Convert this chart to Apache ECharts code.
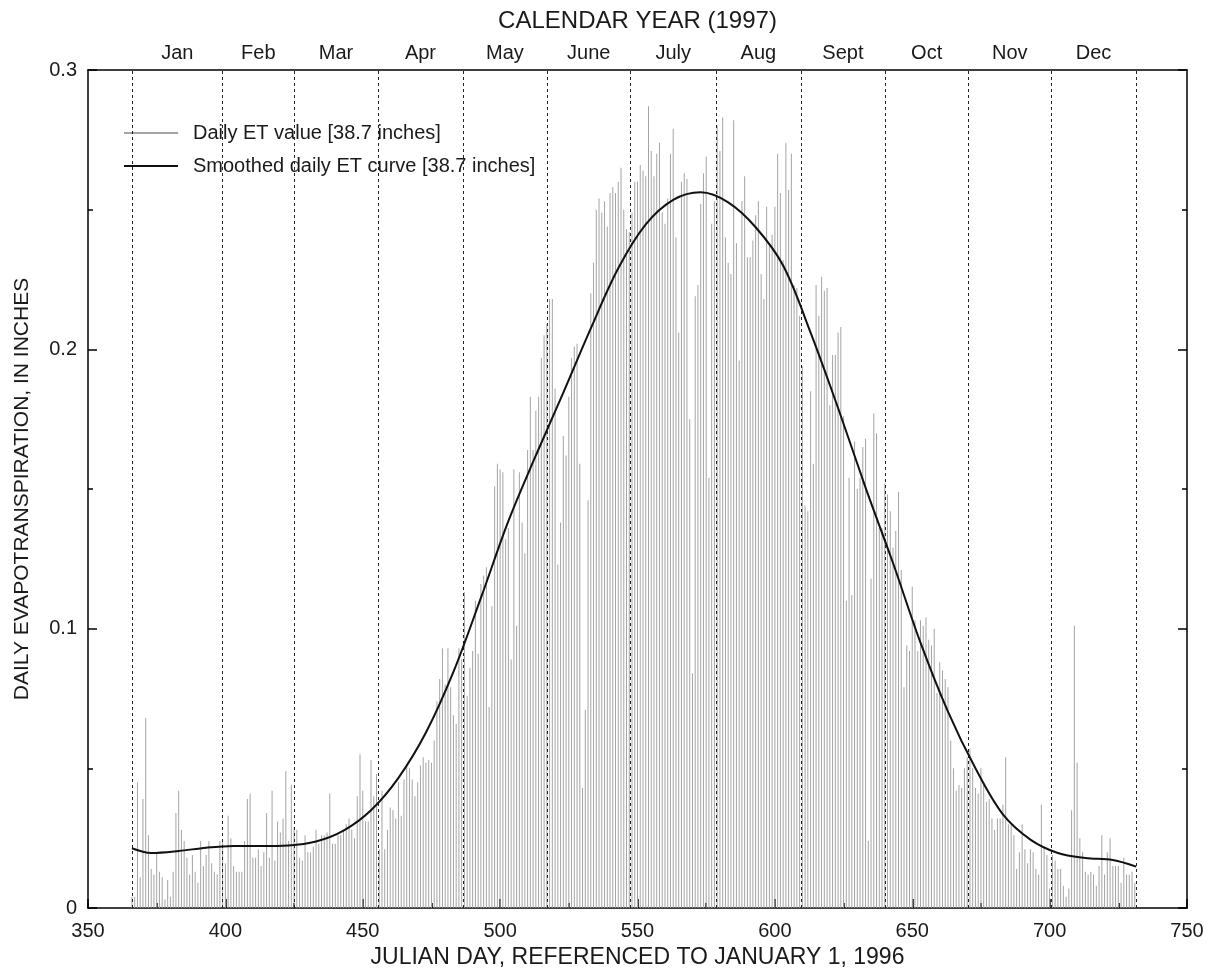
<!DOCTYPE html>
<html>
<head>
<meta charset="utf-8">
<script src="https://cdn.jsdelivr.net/npm/echarts@6/dist/echarts.min.js"></script>
<style>
html,body{margin:0;padding:0;background:#fff;}
#chart{width:1211px;height:976px;}
</style>
</head>
<body>
<div id="chart"></div>
<script>
// ---- data ----
const firstDay = 366;
// daily ET values (inches), one per day from day 366 to day 731
const dailyET = [
  0.004,0.004,0.045,0.011,0.039,0.068,0.026,0.014,0.012,0.020,
  0.013,0.011,0.003,0.010,0.004,0.013,0.034,0.042,0.028,0.024,
  0.018,0.012,0.019,0.013,0.009,0.024,0.015,0.019,0.024,0.016,
  0.013,0.012,0.024,0.024,0.016,0.033,0.025,0.015,0.013,0.013,
  0.013,0.024,0.039,0.041,0.018,
  0.018,0.021,0.015,0.020,0.034,0.018,0.042,0.017,0.031,0.027,
  0.032,0.049,0.024,0.044,0.029,0.028,0.018,0.017,0.026,0.020,
  0.020,0.022,0.028,0.023,0.026,0.026,0.027,0.041,0.023,0.023,
  0.026,0.026,0.028,0.030,0.032,0.028,0.025,0.040,0.055,0.042,
  0.031,0.031,0.053,0.040,0.048,0.021,0.042,0.021,0.028,0.036,
  0.035,0.032,0.045,0.033,0.046,0.051,0.050,0.046,0.040,0.045,
  0.051,0.054,0.052,0.053,0.052,0.060,0.074,0.082,0.093,0.080,
  0.093,0.079,0.069,0.066,0.093,0.089,0.113,0.076,0.086,0.092,
  0.110,0.091,0.116,0.119,0.122,0.072,0.108,0.151,0.159,0.157,
  0.156,0.132,0.136,0.089,0.157,
  0.101,0.156,0.138,0.127,0.164,0.183,0.164,0.178,0.183,0.197,0.205,0.209,0.218,0.218,0.186,
  0.123,0.138,0.169,0.162,0.183,0.197,0.201,0.202,0.159,0.043,0.071,0.146,0.220,
  0.231,0.250,0.254,0.249,0.253,0.244,0.256,0.258,0.256,0.260,0.265,0.250,0.243,0.242,0.249,0.260,
  0.260,0.266,0.264,0.262,0.287,0.271,0.262,0.270,0.274,0.249,
  0.245,0.254,0.270,0.279,0.240,0.206,0.260,0.263,0.261,0.175,
  0.084,0.219,0.223,0.252,0.263,0.269,0.154,0.245,0.253,0.280,
  0.271,0.283,0.240,0.231,0.227,0.282,0.238,0.196,0.253,0.262,
  0.233,0.233,0.239,0.248,0.253,
  0.227,0.218,0.251,0.237,0.241,0.251,0.270,0.256,0.232,0.274,
  0.257,0.270,0.223,0.222,0.212,0.194,0.144,0.142,0.185,0.159,
  0.223,0.212,0.226,0.221,0.222,0.180,0.198,0.198,0.206,0.208,
  0.176,0.110,0.154,0.112,0.167,0.150,0.154,0.165,0.168,0.024,
  0.118,0.177,0.170,0.136,0.136,
  0.152,0.148,0.142,0.129,0.135,0.149,0.121,0.079,0.094,0.092,
  0.115,0.103,0.092,0.103,0.101,0.104,0.096,0.094,0.100,0.077,
  0.088,0.085,0.082,0.079,0.060,0.050,0.042,0.044,0.043,0.050,
  0.054,0.057,0.050,0.043,0.041,0.050,0.045,0.038,0.039,0.032,
  0.028,0.032,0.032,0.037,0.054,0.030,
  0.030,0.026,0.014,0.020,0.030,0.021,0.016,0.021,0.020,0.014,
  0.012,0.037,0.022,0.019,0.007,0.019,0.017,0.014,0.014,0.008,
  0.004,0.007,0.035,0.101,0.052,0.025,0.020,0.013,0.012,0.013,
  0.012,0.008,0.015,0.026,0.012,0.020,0.025,0.015,0.015,0.015,
  0.009,0.018,0.012,0.012,0.013,0.009
];
// smoothed curve, every ten days (peak near day 573)
const curveDays = [366,373,383,393,403,413,423,433,443,453,463,473,483,493,503,513,523,533,543,553,563,573,583,593,603,613,623,633,643,653,663,673,683,693,703,713,723,731.5];
const curveET   = [0.0214,0.0197,0.0204,0.0216,0.0222,0.0222,0.0224,0.0238,0.0277,0.0350,0.0466,0.0628,0.0845,0.1110,0.1385,0.1620,0.1845,0.2075,0.2290,0.2447,0.2535,0.2562,0.2526,0.2437,0.2300,0.2060,0.1790,0.1505,0.1235,0.0950,0.0703,0.0500,0.0335,0.0245,0.0197,0.0179,0.0172,0.0148];
// month boundary days (dotted lines) and month names
const monthEdges = [366,399,425,455.5,486.5,517,547.5,578.5,609.5,640,670.5,700.5,731.5];
const monthNames = ['Jan','Feb','Mar','Apr','May','June','July','Aug','Sept','Oct','Nov','Dec'];

// ---- build ----
const FONT = 'Liberation Sans, Arial, Helvetica, sans-serif';
const TXT = '#1a1a1a';
const barData = dailyET.map((v, i) => [firstDay + i, v]);
const curveData = curveDays.map((d, i) => [d, curveET[i]]);
const edgeLines = monthEdges.map(d => ({ xAxis: d }));
const monthLabels = monthNames.map((m, i) => ({ name: m, xAxis: (monthEdges[i] + monthEdges[i + 1]) / 2 }));

const chart = echarts.init(document.getElementById('chart'), null, { renderer: 'canvas' });
const axisLineStyle = { color: '#000', width: 1.5 };
const tickStyle = { color: '#000', width: 1.5 };
chart.setOption({
  animation: false,
  backgroundColor: '#fff',
  textStyle: { fontFamily: FONT },
  grid: { left: 88, right: 24, top: 70, bottom: 68, containLabel: false },
  legend: {
    orient: 'vertical', left: 119, top: 118,
    itemWidth: 54, itemHeight: 2, itemGap: 13,
    icon: 'rect',
    textStyle: { fontFamily: FONT, fontSize: 20, color: TXT, padding: [0, 0, 0, 10] },
    data: ['Daily ET value [38.7 inches]', 'Smoothed daily ET curve [38.7 inches]']
  },
  xAxis: [{
    type: 'value', min: 350, max: 750, interval: 50, position: 'bottom',
    name: 'JULIAN DAY, REFERENCED TO JANUARY 1, 1996', nameLocation: 'middle', nameGap: 38,
    nameTextStyle: { fontFamily: FONT, fontSize: 23, color: TXT },
    axisLine: { show: true, onZero: false, lineStyle: axisLineStyle },
    axisTick: { show: true, inside: true, length: 9, lineStyle: tickStyle },
    minorTick: { show: true, splitNumber: 2, length: 5, lineStyle: tickStyle },
    axisLabel: { fontFamily: FONT, fontSize: 20, color: TXT, margin: 13 },
    splitLine: { show: false }
  }, {
    type: 'value', min: 350, max: 750, interval: 50, position: 'top',
    name: 'CALENDAR YEAR (1997)', nameLocation: 'middle', nameGap: 37,
    nameTextStyle: { fontFamily: FONT, fontSize: 24, color: TXT },
    axisLine: { show: true, onZero: false, lineStyle: axisLineStyle },
    axisTick: { show: false }, axisLabel: { show: false }, splitLine: { show: false }
  }],
  yAxis: [{
    type: 'value', min: 0, max: 0.3, interval: 0.1, position: 'left',
    name: 'DAILY EVAPOTRANSPIRATION, IN INCHES', nameLocation: 'middle', nameGap: 55,
    nameTextStyle: { fontFamily: FONT, fontSize: 21, color: TXT },
    axisLine: { show: true, onZero: false, lineStyle: axisLineStyle },
    axisTick: { show: true, inside: true, length: 9, lineStyle: tickStyle },
    minorTick: { show: true, splitNumber: 2, length: 5, lineStyle: tickStyle },
    axisLabel: { fontFamily: FONT, fontSize: 20, color: TXT, margin: 11 },
    splitLine: { show: false }
  }, {
    type: 'value', min: 0, max: 0.3, interval: 0.1, position: 'right',
    axisLine: { show: true, onZero: false, lineStyle: axisLineStyle },
    axisTick: { show: true, inside: true, length: 9, lineStyle: tickStyle },
    minorTick: { show: true, splitNumber: 2, length: 5, lineStyle: tickStyle },
    axisLabel: { show: false }, splitLine: { show: false }
  }],
  series: [{
    name: 'Daily ET value [38.7 inches]',
    type: 'bar', xAxisIndex: 0, yAxisIndex: 0,
    data: barData, barWidth: 1, barGap: '0%',
    itemStyle: { color: '#a4a4a4' },
    silent: true,
    markLine: {
      silent: true, symbol: ['none', 'none'], animation: false,
      lineStyle: { type: [3, 3], color: '#222', width: 1 },
      label: { show: false },
      data: edgeLines
    },
    z: 2
  }, {
    name: 'Smoothed daily ET curve [38.7 inches]',
    type: 'line', xAxisIndex: 0, yAxisIndex: 0,
    data: curveData, smooth: 0.35, showSymbol: false, symbol: 'none',
    lineStyle: { color: '#111', width: 2 },
    itemStyle: { color: '#111' },
    silent: true,
    markLine: {
      silent: true, symbol: ['none', 'none'], animation: false,
      lineStyle: { color: 'rgba(0,0,0,0)', width: 1, type: 'solid' },
      label: { show: true, position: 'end', formatter: '{b}', distance: 7, fontFamily: FONT, fontSize: 20, color: TXT },
      emphasis: { disabled: true },
      data: monthLabels
    },
    z: 5
  }]
});
</script>
</body>
</html>
